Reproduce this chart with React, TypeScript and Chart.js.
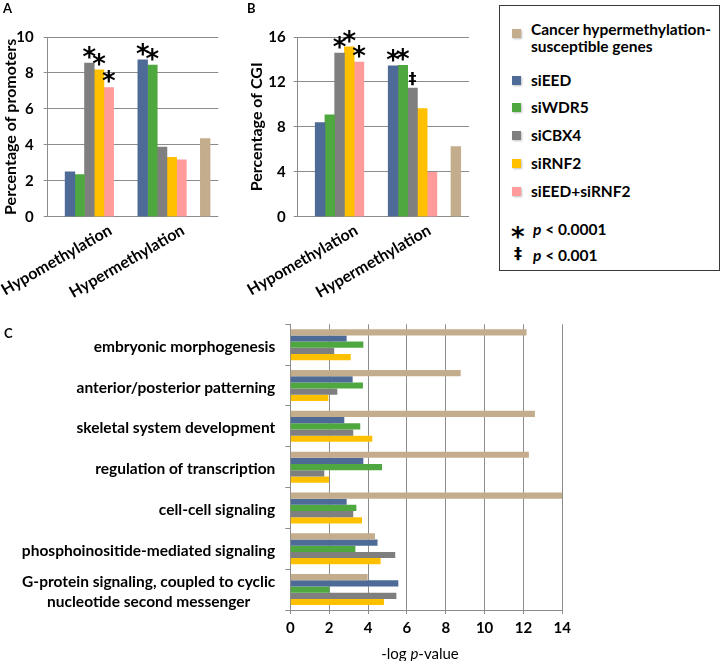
import React, { useEffect, useRef } from 'react';
import { Chart, registerables } from 'chart.js';

Chart.register(...registerables);

const FONT = 'Lato, "Open Sans", "DejaVu Sans", sans-serif';
const SYMBOL_FONT = '"DejaVu Sans", sans-serif';
const GRID = '#8c8c8c';

// ---------- series ----------
const seriesNames = ['siEED', 'siWDR5', 'siCBX4', 'siRNF2', 'siEED+siRNF2'];
const seriesColors = ['#4E6B98', '#4FA83F', '#7F7F7F', '#FFC000', '#FF9B9B'];
const cancerNameLines = ['Cancer hypermethylation-', 'susceptible genes'];
const cancerColor = '#C4AD8D';

const methylationGroups = ['Hypomethylation', 'Hypermethylation'];

// ---------- panel A: percentage of promoters ----------
const promotersEED = [2.49, 8.73];
const promotersWDR5 = [2.34, 8.44];
const promotersCBX4 = [8.55, 3.87];
const promotersRNF2 = [8.18, 3.31];
const promotersEEDRNF2 = [7.19, 3.16];
const promotersCancer = 4.35;
const promotersSigEED = ['', '*'];
const promotersSigWDR5 = ['', '*'];
const promotersSigCBX4 = ['*', ''];
const promotersSigRNF2 = ['*', ''];
const promotersSigEEDRNF2 = ['*', ''];
const promotersTicks = [0, 2, 4, 6, 8, 10];

// ---------- panel B: percentage of CGI ----------
const cgiEED = [8.38, 13.44];
const cgiWDR5 = [9.07, 13.47];
const cgiCBX4 = [14.57, 11.45];
const cgiRNF2 = [15.13, 9.63];
const cgiEEDRNF2 = [13.77, 3.96];
const cgiCancer = 6.24;
const cgiSigEED = ['', '*'];
const cgiSigWDR5 = ['', '*'];
const cgiSigCBX4 = ['*', '‡'];
const cgiSigRNF2 = ['*', ''];
const cgiSigEEDRNF2 = ['*', ''];
const cgiTicks = [0, 4, 8, 12, 16];

// ---------- panel C: GO terms, -log p-value ----------
const goTerms: (string | string[])[] = [
  'embryonic morphogenesis',
  'anterior/posterior patterning',
  'skeletal system development',
  'regulation of transcription',
  'cell-cell signaling',
  'phosphoinositide-mediated signaling',
  ['G-protein signaling, coupled to cyclic', 'nucleotide second messenger'],
];
const goCancer = [12.16, 8.77, 12.59, 12.28, 14.0, 4.36, 3.98];
const goEED = [2.9, 3.21, 2.78, 3.76, 2.9, 4.49, 5.56];
const goWDR5 = [3.76, 3.74, 3.6, 4.72, 3.4, 3.35, 2.01];
const goCBX4 = [2.26, 2.42, 3.24, 1.75, 3.24, 5.4, 5.46];
const goRNF2 = [3.11, 1.96, 4.22, 1.99, 3.69, 4.65, 4.82];
const goTicks = [0, 2, 4, 6, 8, 10, 12, 14];

// ---------- layout (bar slot units for panels A/B) ----------
const GROUP_CENTERS = [4.3, 11.8];
const CANCER_X = 16.25;
const X_MAX = 17.6;

const SIG_STYLE: Record<string, { font: string; dy: number }> = {
  '*': { font: `bold 26px ${SYMBOL_FONT}`, dy: 3 },
  '‡': { font: `bold 16px ${SYMBOL_FONT}`, dy: -4 },
};

const sigPlugin = {
  id: 'sigMarks',
  afterDatasetsDraw(chart: any) {
    const ctx = chart.ctx;
    chart.data.datasets.forEach((ds: any, i: number) => {
      if (!ds.sig) return;
      const meta = chart.getDatasetMeta(i);
      ds.sig.forEach((s: string, j: number) => {
        if (!s) return;
        const el = meta.data[j];
        const st = SIG_STYLE[s];
        ctx.save();
        ctx.font = st.font;
        ctx.fillStyle = '#000';
        ctx.textAlign = 'center';
        ctx.textBaseline = 'alphabetic';
        ctx.fillText(s, el.x, el.y + st.dy);
        ctx.restore();
      });
    });
  },
};

const goLabelPlugin = {
  id: 'goLabels',
  afterDraw(chart: any) {
    const { ctx, chartArea } = chart;
    const y = chart.scales.y;
    const right = chartArea.left - 15;
    ctx.save();
    ctx.font = `bold 15.5px ${FONT}`;
    ctx.fillStyle = '#000';
    ctx.textBaseline = 'middle';
    goTerms.forEach((term, i) => {
      const cy = y.getPixelForTick(i) + 2;
      if (!Array.isArray(term)) {
        ctx.textAlign = 'right';
        ctx.fillText(term, right, cy);
        return;
      }
      const w = Math.max(...term.map((l) => ctx.measureText(l).width));
      ctx.textAlign = 'center';
      term.forEach((l, k) => ctx.fillText(l, right - w / 2, cy + (k - (term.length - 1) / 2) * 20));
    });
    ctx.restore();
  },
};

function methylationConfig(p: {
  values: number[][];
  sig: string[][];
  cancer: number;
  ticks: number[];
  yTitle: string;
  yWidth: number;
  titlePad: number;
  tickPad: number;
  padRight: number;
  labelOffset: number;
}) {
  const datasets: any[] = p.values.map((vals, s) => ({
    label: seriesNames[s],
    data: vals.map((v, g) => ({ x: GROUP_CENTERS[g] + (s - 2), y: v })),
    backgroundColor: seriesColors[s],
    sig: p.sig[s],
  }));
  datasets.push({
    label: cancerNameLines.join(''),
    data: [{ x: CANCER_X, y: p.cancer }],
    backgroundColor: cancerColor,
  });
  return {
    type: 'bar' as const,
    data: { datasets },
    options: {
      responsive: false,
      animation: false as const,
      datasets: { bar: { grouped: false, categoryPercentage: 1, barPercentage: 1, borderWidth: 0 } },
      layout: { padding: { left: 0, top: 37, right: p.padRight, bottom: 0 } },
      plugins: { legend: { display: false }, tooltip: { enabled: false } },
      scales: {
        x: {
          type: 'linear' as const,
          min: 0,
          max: X_MAX,
          offset: false,
          grid: { display: false, drawTicks: false, offset: false },
          border: { display: false },
          afterBuildTicks: (s: any) => {
            s.ticks = GROUP_CENTERS.map((v) => ({ value: v }));
          },
          afterFit: (s: any) => {
            s.height = 83.3;
            s.paddingLeft = 0;
            s.paddingRight = 0;
          },
          ticks: {
            autoSkip: false,
            maxRotation: 30,
            minRotation: 30,
            labelOffset: p.labelOffset,
            padding: 4,
            color: '#000',
            font: { family: FONT, weight: 'bold' as const, size: 16 },
            callback: (_v: any, i: number) => methylationGroups[i],
          },
        },
        y: {
          min: 0,
          max: p.ticks[p.ticks.length - 1],
          afterBuildTicks: (s: any) => {
            s.ticks = p.ticks.map((v) => ({ value: v }));
          },
          afterFit: (s: any) => {
            s.width = p.yWidth;
          },
          ticks: {
            padding: p.tickPad,
            color: '#000',
            font: { family: FONT, weight: 'bold' as const, size: 15 },
          },
          grid: { color: GRID, tickLength: 4, lineWidth: 1 },
          border: { color: GRID },
          title: {
            display: true,
            text: p.yTitle,
            color: '#000',
            font: { family: FONT, weight: 'bold' as const, size: 16 },
            padding: { top: p.titlePad, bottom: 0 },
          },
        },
      },
    },
    plugins: [sigPlugin],
  };
}

function goConfig() {
  const mk = (label: string, data: number[], color: string) => ({ label, data, backgroundColor: color });
  return {
    type: 'bar' as const,
    data: {
      labels: goTerms.map((t) => (Array.isArray(t) ? t.join(' ') : t)),
      datasets: [
        mk(cancerNameLines.join(''), goCancer, cancerColor),
        mk(seriesNames[0], goEED, seriesColors[0]),
        mk(seriesNames[1], goWDR5, seriesColors[1]),
        mk(seriesNames[2], goCBX4, seriesColors[2]),
        mk(seriesNames[3], goRNF2, seriesColors[3]),
      ],
    },
    options: {
      indexAxis: 'y' as const,
      responsive: false,
      animation: false as const,
      datasets: { bar: { categoryPercentage: 0.76, barPercentage: 1, borderWidth: 0 } },
      layout: { padding: { left: 0, top: 24.3, right: 161.7, bottom: 0 } },
      plugins: { legend: { display: false }, tooltip: { enabled: false } },
      scales: {
        x: {
          type: 'linear' as const,
          min: 0,
          max: goTicks[goTicks.length - 1],
          afterBuildTicks: (s: any) => {
            s.ticks = goTicks.map((v) => ({ value: v }));
          },
          afterFit: (s: any) => {
            s.height = 51;
          },
          ticks: {
            padding: 5,
            color: '#000',
            font: { family: FONT, weight: 'bold' as const, size: 15 },
          },
          grid: { color: GRID, tickLength: 4 },
          border: { color: GRID },
        },
        y: {
          type: 'category' as const,
          ticks: { display: false },
          grid: { drawOnChartArea: false, offset: true, tickLength: 5, color: GRID },
          border: { color: GRID },
          afterFit: (s: any) => {
            s.width = 290.3;
          },
        },
      },
    },
    plugins: [goLabelPlugin],
  };
}

function ChartCanvas({ config, left, top, width, height }: any) {
  const ref = useRef<HTMLCanvasElement>(null);
  useEffect(() => {
    const chart = new Chart(ref.current as HTMLCanvasElement, config);
    return () => chart.destroy();
  }, []);
  return (
    <canvas
      ref={ref}
      width={width}
      height={height}
      style={{ position: 'absolute', left, top, width, height }}
    />
  );
}

const txt: React.CSSProperties = {
  position: 'absolute',
  fontFamily: FONT,
  fontWeight: 'bold',
  fontSize: 15.5,
  lineHeight: '17px',
  whiteSpace: 'nowrap',
  color: '#000',
};

function Swatch({ color, top }: { color: string; top: number }) {
  return (
    <div
      style={{
        position: 'absolute',
        left: 512,
        top,
        width: 9,
        height: 9,
        background: color,
        boxShadow: '1px 1px 2px rgba(0,0,0,0.25)',
      }}
    />
  );
}

export default function App() {
  const configA = methylationConfig({
    values: [promotersEED, promotersWDR5, promotersCBX4, promotersRNF2, promotersEEDRNF2],
    sig: [promotersSigEED, promotersSigWDR5, promotersSigCBX4, promotersSigRNF2, promotersSigEEDRNF2],
    cancer: promotersCancer,
    ticks: promotersTicks,
    yTitle: 'Percentage of promoters',
    yWidth: 47.7,
    titlePad: 1,
    tickPad: 10,
    padRight: 232 - 218.3,
    labelOffset: 21,
  });
  const configB = methylationConfig({
    values: [cgiEED, cgiWDR5, cgiCBX4, cgiRNF2, cgiEEDRNF2],
    sig: [cgiSigEED, cgiSigWDR5, cgiSigCBX4, cgiSigRNF2, cgiSigEEDRNF2],
    cancer: cgiCancer,
    ticks: cgiTicks,
    yTitle: 'Percentage of CGI',
    yWidth: 57.7,
    titlePad: 7,
    tickPad: 8,
    padRight: 11,
    labelOffset: 17,
  });
  const configC = goConfig();
  const legendRows = [80, 107.5, 135.5, 163, 191.5];

  return (
    <div
      style={{
        position: 'fixed',
        left: 0,
        top: 0,
        width: 724,
        height: 661,
        background: '#fff',
        overflow: 'hidden',
      }}
    >
      <ChartCanvas config={configA} left={0} top={0} width={232} height={300} />
      <ChartCanvas config={configB} left={240} top={0} width={240} height={300} />
      <ChartCanvas config={configC} left={0} top={300} width={724} height={361} />

      <div style={{ ...txt, fontSize: 13, left: 3, top: 0 }}>A</div>
      <div style={{ ...txt, fontSize: 13, left: 247, top: 0 }}>B</div>
      <div style={{ ...txt, fontSize: 13, left: 4, top: 325 }}>C</div>

      <div
        style={{
          ...txt,
          fontWeight: 'normal',
          fontSize: 15,
          left: 320,
          width: 200,
          textAlign: 'center',
          top: 645,
        }}
      >
        -log <i>p</i>-value
      </div>

      <div
        style={{
          position: 'absolute',
          left: 499,
          top: 5,
          width: 221,
          height: 266,
          boxSizing: 'border-box',
          border: '1.5px solid #3a3a3a',
        }}
      />
      <Swatch color={cancerColor} top={29} />
      <div style={{ ...txt, left: 531, top: 20.5 }}>{cancerNameLines[0]}</div>
      <div style={{ ...txt, left: 531, top: 38 }}>{cancerNameLines[1]}</div>
      {seriesNames.map((name, i) => (
        <React.Fragment key={name}>
          <Swatch color={seriesColors[i]} top={legendRows[i] - 4.5} />
          <div style={{ ...txt, left: 531, top: legendRows[i] - 8.5 }}>{name}</div>
        </React.Fragment>
      ))}
      <div
        style={{
          ...txt,
          fontFamily: SYMBOL_FONT,
          fontSize: 26,
          lineHeight: '26px',
          left: 511,
          top: 224,
        }}
      >
        *
      </div>
      <div style={{ ...txt, left: 533, top: 229 - 8.5 }}>
        <i>p</i> &lt; 0.0001
      </div>
      <div
        style={{
          ...txt,
          fontFamily: SYMBOL_FONT,
          fontSize: 16,
          lineHeight: '17px',
          left: 514,
          top: 245,
        }}
      >
        ‡
      </div>
      <div style={{ ...txt, left: 533, top: 255 - 8.5 }}>
        <i>p</i> &lt; 0.001
      </div>
    </div>
  );
}
